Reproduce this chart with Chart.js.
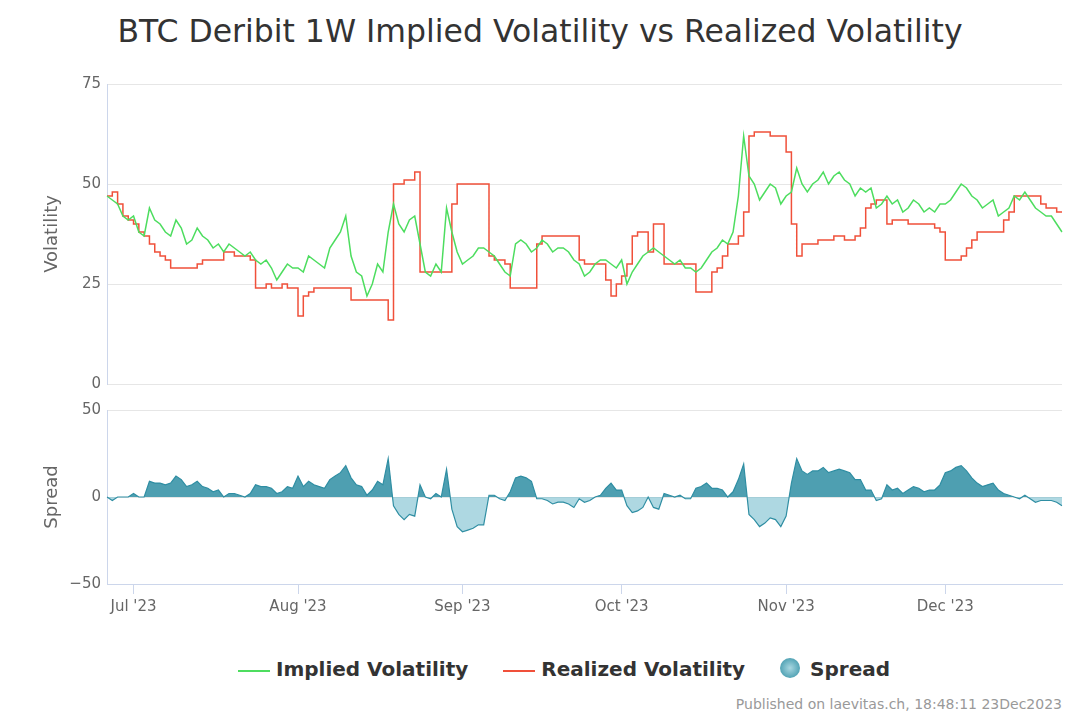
<!DOCTYPE html>
<html>
<head>
<meta charset="utf-8">
<script src="https://cdn.jsdelivr.net/npm/chart.js@4"></script>
<style>
  body { margin: 0; width: 1080px; height: 720px; background: #fff; font-family: "DejaVu Sans", sans-serif; position: relative; overflow: hidden; }
  #title { position: absolute; top: 13px; left: 0; width: 1080px; text-align: center; font-size: 31.5px; color: #333; }
  .wrap { position: absolute; left: 0; width: 1080px; }
  #legend { position: absolute; top: 657px; left: 24px; width: 1080px; text-align: center; font-size: 20px; font-weight: bold; color: #333; }
  #legend span { margin: 0 14px; }
  .ln { display: inline-block; width: 32px; height: 2px; vertical-align: middle; margin-right: 6px; }
  .dot { display: inline-block; width: 20px; height: 20px; border-radius: 50%; vertical-align: -2px; margin-right: 10px; background: radial-gradient(#a9d7e1, #2f8ea3); }
  #foot { position: absolute; right: 18px; bottom: 8px; font-size: 14px; color: #999; }
</style>
</head>
<body>
<div id="title">BTC Deribit 1W Implied Volatility vs Realized Volatility</div>
<div class="wrap" style="top:69px;height:330px"><canvas id="volChart"></canvas></div>
<div class="wrap" style="top:395px;height:235px"><canvas id="spreadChart"></canvas></div>
<div id="legend">
  <span><i class="ln" style="background:#4ddd5f"></i>Implied Volatility</span>
  <span><i class="ln" style="background:#f0503a"></i>Realized Volatility</span>
  <span><i class="dot"></i>Spread</span>
</div>
<div id="foot">Published on laevitas.ch, 18:48:11 23Dec2023</div>
<script>
// daily values, 26 Jun 2023 .. 23 Dec 2023
const startDate = new Date(2023, 5, 26);
const monthNames = ['Jan','Feb','Mar','Apr','May','Jun','Jul','Aug','Sep','Oct','Nov','Dec'];

const realizedVol = [
    47,48,45,42,41,
    40,38,37,35,33,32,31,29,29,29,29,29,30,31,31,31,31,33,33,32,32,32,31,24,24,25,24,24,25,24,24,
    17,22,23,24,24,24,24,24,24,24,21,21,21,21,21,21,21,16,50,50,51,51,53,28,28,28,28,28,28,45,50,
    50,50,50,50,50,32,31,31,30,24,24,24,24,24,35,37,37,37,37,37,37,37,31,30,30,30,30,26,22,25,
    27,30,37,38,38,33,40,40,30,30,30,30,30,30,23,23,23,28,29,32,35,35,37,43,62,63,63,63,62,62,62,
    58,40,32,35,35,35,36,36,36,37,37,36,36,37,39,44,45,46,46,40,41,41,41,40,40,40,40,40,39,38,
    31,31,31,32,34,36,38,38,38,38,38,41,43,47,47,47,47,47,45,44,44,43,43
];

const impliedVol = [
    47,46,45,42,41,
    42,38,37,44,41,40,38,37,41,39,35,36,39,37,36,34,35,33,35,34,33,32,33,31,30,31,29,26,28,30,29,
    29,28,32,31,30,29,34,36,38,42,32,28,27,22,25,30,28,38,45,40,38,41,42,35,28,27,30,28,44,38,33,
    30,31,32,34,34,33,32,30,28,27,35,36,35,33,34,36,35,33,34,34,33,31,30,27,28,30,31,31,30,29,
    31,25,28,30,32,33,34,33,32,31,30,31,29,29,28,29,31,33,34,36,35,38,47,62,52,50,46,48,50,49,45,
    47,48,54,50,48,50,51,53,50,52,53,51,50,47,49,48,49,44,45,47,45,46,43,44,46,45,43,44,43,45,
    45,46,48,50,49,47,46,44,45,46,42,43,44,47,46,48,46,44,43,42,42,40,38
];

const volTicks = [0, 25, 50, 75];
const spreadTicks = [-50, 0, 50];

const dates = impliedVol.map((_, i) => new Date(startDate.getTime() + i * 86400000 + 43200000));
const labels = dates.map(d => d.getDate() === 1 ? monthNames[d.getMonth()] + " '23" : '');
const spread = impliedVol.map((v, i) => v - realizedVol[i]);

const tickFont = {family: '"DejaVu Sans", sans-serif', size: 15};
const axisTitleFont = {family: '"DejaVu Sans", sans-serif', size: 18};

function yScale(ticks, title) {
    return {
        min: ticks[0], max: ticks[ticks.length - 1],
        afterBuildTicks: s => { s.ticks = ticks.map(v => ({value: v})); },
        afterFit: s => { s.width = 69; },
        ticks: {color: '#666', font: tickFont, padding: 6, callback: v => String(v).replace('-', '\u2212')},
        grid: {color: '#e6e6e6', drawTicks: false},
        border: {display: true, color: '#ccd6eb'},
        title: {display: true, text: title, color: '#666', font: axisTitleFont}
    };
}

new Chart(document.getElementById('volChart'), {
    type: 'line',
    data: {
        labels: labels,
        datasets: [
            {label: 'Implied Volatility', data: impliedVol, borderColor: '#4ddd5f', borderWidth: 1.5, pointRadius: 0, tension: 0},
            {label: 'Realized Volatility', data: realizedVol, borderColor: '#f0503a', borderWidth: 1.5, pointRadius: 0, stepped: true}
        ]
    },
    options: {
        responsive: true,
        maintainAspectRatio: false,
        animation: false,
        layout: {padding: {top: 5, bottom: 6, right: 18, left: 38}},
        plugins: {legend: {display: false}, tooltip: {enabled: false}},
        scales: {
            x: {display: false, offset: false},
            y: yScale(volTicks, 'Volatility')
        }
    }
});

new Chart(document.getElementById('spreadChart'), {
    type: 'line',
    data: {
        labels: labels,
        datasets: [{
            label: 'Spread',
            data: spread,
            borderColor: '#2f8ea3',
            borderWidth: 1.2,
            pointRadius: 0,
            fill: {target: 'origin', above: 'rgba(47,142,163,0.85)', below: 'rgba(120,190,206,0.6)'}
        }]
    },
    options: {
        responsive: true,
        maintainAspectRatio: false,
        animation: false,
        layout: {padding: {top: 5, bottom: 0, right: 18, left: 38}},
        plugins: {legend: {display: false}, tooltip: {enabled: false}},
        scales: {
            x: {
                offset: false,
                afterFit: s => { s.height = 46; },
                ticks: {autoSkip: false, maxRotation: 0, color: '#666', font: tickFont, padding: 4},
                grid: {
                    drawOnChartArea: false,
                    tickLength: 10,
                    color: c => (c.tick && labels[c.index]) ? '#ccd6eb' : 'rgba(0,0,0,0)'
                },
                border: {display: true, color: '#ccd6eb'}
            },
            y: yScale(spreadTicks, 'Spread')
        }
    }
});
</script>
</body>
</html>
